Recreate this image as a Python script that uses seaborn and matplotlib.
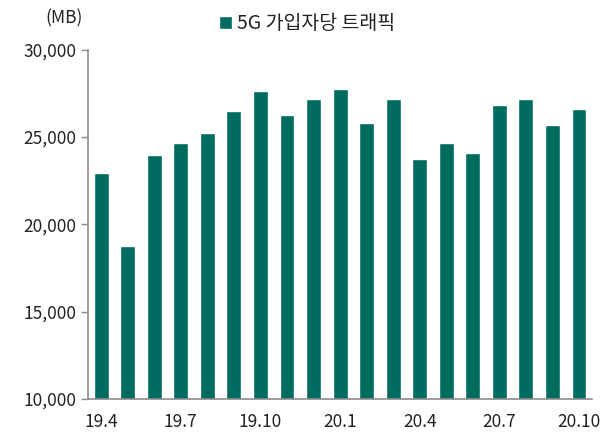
import numpy as np
import pandas as pd
import matplotlib
matplotlib.use("Agg")
import matplotlib.pyplot as plt
from matplotlib.ticker import FuncFormatter, FixedLocator
import seaborn as sns

months = ["19.4", "19.5", "19.6", "19.7", "19.8", "19.9", "19.10", "19.11", "19.12",
          "20.1", "20.2", "20.3", "20.4", "20.5", "20.6", "20.7", "20.8", "20.9", "20.10"]
traffic = [22960, 18750, 24000, 24680, 25250, 26500, 27640, 26270, 27180,
           27750, 25800, 27180, 23760, 24680, 24100, 26840, 27180, 25700, 26610]
shown_labels = ["19.4", "19.7", "19.10", "20.1", "20.4", "20.7", "20.10"]

series_name = "5G 가입자당 트래픽"
bar_color = "#006B5F"
axis_color = "#8C8C8C"

sns.set_theme(style="white")
plt.rcParams["font.family"] = ["Noto Sans CJK KR", "DejaVu Sans"]

df = pd.DataFrame({"month": months, "traffic": traffic})

fig = plt.figure(figsize=(6.15, 4.33), dpi=100)
ax = fig.add_axes([0.143, 0.0785, 0.82, 0.8065])

sns.barplot(data=df, x="month", y="traffic", color=bar_color, width=0.56,
            saturation=1, ax=ax, label=series_name)

ax.set_ylim(10000, 30000)
ax.set_xlim(-0.5, len(months) - 0.5)
ax.set_yticks([10000, 15000, 20000, 25000, 30000])
ax.yaxis.set_major_formatter(FuncFormatter(lambda v, p: f"{int(v):,}"))

ax.set_xticks(range(len(months)))
ax.set_xticklabels([m if m in shown_labels else "" for m in months])
ax.xaxis.set_minor_locator(FixedLocator(np.arange(-0.5, len(months), 1.0)))
ax.tick_params(axis="x", which="major", length=0, pad=10, labelsize=12.5, colors="#222222")
ax.tick_params(axis="x", which="minor", length=5, width=1, color=axis_color, direction="out")
ax.tick_params(axis="y", length=5, width=1, color=axis_color, direction="out",
               labelsize=12.5, labelcolor="#222222", left=True)

ax.set_xlabel("")
ax.set_ylabel("")
for side in ["top", "right"]:
    ax.spines[side].set_visible(False)
for side in ["left", "bottom"]:
    ax.spines[side].set_color(axis_color)
    ax.spines[side].set_linewidth(1.2)

fig.text(0.073, 0.958, "(MB)", fontsize=12.5, color="#222222", ha="left", va="center")

leg = ax.legend(loc="center", bbox_to_anchor=(0.435, 1.075), frameon=False,
                fontsize=14, handlelength=0.65, handleheight=0.65, handletextpad=0.3)
for t in leg.get_texts():
    t.set_color("#222222")

fig.savefig("out.png", dpi=100)
